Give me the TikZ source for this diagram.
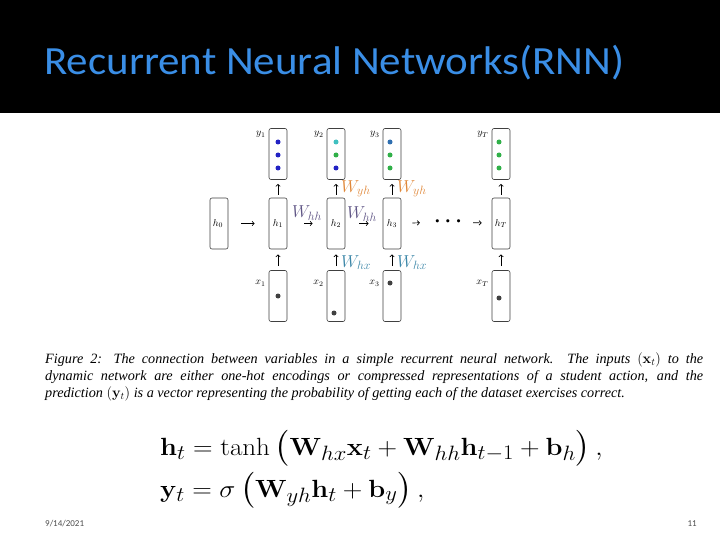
\documentclass[tikz,border=0pt]{standalone}
\usepackage{amsmath,amssymb}
\usepackage{xcolor}
\usepackage[no-math]{fontspec}
\newfontfamily\capfont{Liberation Serif}
\newfontfamily\titlefont{Carlito}
\usepackage{tikz}
\usetikzlibrary{arrows.meta,positioning}

\definecolor{titleblue}{HTML}{3A8EE6}
\definecolor{dotblue}{HTML}{2222C4}
\definecolor{dotteal}{HTML}{40C0C0}
\definecolor{dotgreen}{HTML}{30B048}
\definecolor{dotsteel}{HTML}{2F6FB0}
\definecolor{dotgray}{HTML}{404040}
\definecolor{whh}{HTML}{5F5585}
\definecolor{wyh}{HTML}{E0883A}
\definecolor{whx}{HTML}{3D87A8}

\tikzset{
  cell/.style={draw=black!75, line width=0.6pt, rounded corners=2pt,
    minimum width=18pt, minimum height=51pt, inner sep=0pt, fill=white},
  vlab/.style={font=\fontsize{10}{11}\selectfont, inner sep=1pt},
  wlab/.style={font=\fontsize{18}{20}\selectfont, inner sep=1pt},
  flow/.style={line width=0.7pt, -{Straight Barb[length=2.2pt,width=4.5pt]}},
  dotc/.style={circle, inner sep=0pt, minimum size=5pt},
  captxt/.style={anchor=base west, inner sep=0pt, font=\capfont\itshape\fontsize{14.2}{17}\selectfont},
  eqtxt/.style={anchor=base west, inner sep=0pt, xscale=1.09, font=\fontsize{30}{36}\selectfont},
}

\begin{document}
\begin{tikzpicture}[x=1pt, y=-1pt]
  \useasboundingbox (0,0) rectangle (720,540);
  % Title band
  \fill[black] (0,0) rectangle (720,113);
  \node[anchor=west, text=titleblue, inner sep=0pt, xscale=1.075,
    font=\titlefont\fontsize{40}{44}\selectfont] (title) at (44,63)
    {Recurrent Neural Networks(RNN)};

  % Hidden states
  \node[cell] (h0) at (219,223.5) {};
  \node[vlab] at ([xshift=-1pt]h0.center) {$h_0$};
  \foreach \c/\xx in {1/278, 2/336, 3/392, T/501} {
    \node[cell] (h\c) at (\xx,223.5) {};
    \node[vlab] at (h\c.center) {$h_\c$};
    \node[cell] (y\c) at (\xx,154) {};
    \node[vlab, anchor=north east] at ([xshift=-2pt,yshift=-2pt]y\c.north west) {$y_\c$};
    \node[cell] (x\c) at (\xx,296) {};
    \node[vlab, anchor=north east] at ([xshift=-2pt,yshift=-9pt]x\c.north west) {$x_\c$};
  }
  \node[inner sep=0pt, font=\fontsize{22}{24}\selectfont] (dots) at (450,222) {$\boldsymbol{\cdots}$};

  % Output dots
  \node[dotc, fill=dotblue] at (278,142) {};
  \node[dotc, fill=dotblue] at (278,155) {};
  \node[dotc, fill=dotblue] at (278,168) {};
  \node[dotc, fill=dotteal] at (336,142) {};
  \node[dotc, fill=dotgreen] at (336,155) {};
  \node[dotc, fill=dotblue] at (336,168) {};
  \node[dotc, fill=dotsteel] at (390,142) {};
  \node[dotc, fill=dotgreen] at (390,155) {};
  \node[dotc, fill=dotgreen] at (390,168) {};
  \node[dotc, fill=dotgreen] at (499,142) {};
  \node[dotc, fill=dotgreen] at (499,155) {};
  \node[dotc, fill=dotgreen] at (499,168) {};
  % Input dots
  \node[dotc, fill=dotgray] at (278,296) {};
  \node[dotc, fill=dotgray] at (334,313) {};
  \node[dotc, fill=dotgray] at (390,283) {};
  \node[dotc, fill=dotgray] at (499,298) {};

  % Connections
  \draw[flow, shorten <=13pt, shorten >=14pt] (h0) -- (h1);
  \draw[flow, shorten <=17pt, shorten >=14pt] (h1) -- node[wlab, above=2pt, text=whh] {$W_{hh}$} (h2);
  \draw[flow, shorten <=14pt, shorten >=14pt] (h2) -- node[wlab, above=1pt, xshift=-2pt, text=whh] {$W_{hh}$} (h3);
  \draw[flow, shorten <=11pt, shorten >=14pt] (h3) -- (dots);
  \draw[flow, shorten <=7pt, shorten >=10pt] (dots) -- (hT);
  \foreach \c in {1,2,3,T} {
    \draw[flow, shorten <=4pt, shorten >=5pt] (x\c) -- (h\c);
    \draw[flow, shorten <=3pt, shorten >=4pt] (h\c) -- (y\c);
  }
  \path (h2) -- node[wlab, right=4pt, text=wyh] {$W_{yh}$} (y2);
  \path (h3) -- node[wlab, right=4pt, text=wyh] {$W_{yh}$} (y3);
  \path (x2) -- node[wlab, right=4pt, yshift=-3pt, text=whx] {$W_{hx}$} (h2);
  \path (x3) -- node[wlab, right=4pt, yshift=-3pt, text=whx] {$W_{hx}$} (h3);

  % Caption
  \node[captxt] (cap1) at (45,363)
    {\makebox[658pt][s]{Figure 2: The connection between variables in a simple recurrent neural network.\ \ The inputs $(\mathbf{x}_t)$ to the}};
  \node[captxt] (cap2) at (45,380)
    {\makebox[658pt][s]{dynamic network are either one-hot encodings or compressed representations of a student action, and the}};
  \node[captxt] (cap3) at (45,397)
    {prediction $(\mathbf{y}_t)$ is a vector representing the probability of getting each of the dataset exercises correct.};

  % Equations
  \node[eqtxt] (eq1) at (160,455)
    {$\mathbf{h}_t = \tanh\,\bigl(\mathbf{W}_{hx}\mathbf{x}_t + \mathbf{W}_{hh}\mathbf{h}_{t-1} + \mathbf{b}_h\bigr)\,,$};
  \node[eqtxt] (eq2) at (160,497)
    {$\mathbf{y}_t = \sigma\,\bigl(\mathbf{W}_{yh}\mathbf{h}_t + \mathbf{b}_y\bigr)\,,$};

  % Footer
  \node[anchor=west, inner sep=0pt, text=black!70, font=\titlefont\fontsize{9}{10}\selectfont] (date) at (45,524) {9/14/2021};
  \node[anchor=east, inner sep=0pt, text=black!70, font=\titlefont\fontsize{9}{10}\selectfont] (page) at (697,524) {11};
\end{tikzpicture}
\end{document}
